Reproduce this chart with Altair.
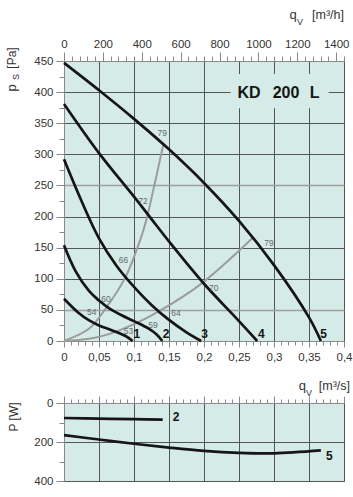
import altair as alt
import pandas as pd

FONT = "Liberation Sans"
BG = "#d4ebe7"
GRID_DARK = "#555555"
GRID_LIGHT = "#a0a0a0"
AXIS_GRAY = "#8a8a8a"
TEXT = "#333333"

# ---------------- data ----------------
# fan curves: static pressure p_s [Pa] vs flow q_v [m3/s]
curve_names = ["1", "2", "3", "4", "5"]
c1_q = [0, 0.021, 0.036, 0.05, 0.069, 0.088, 0.098]
c1_p = [68, 45, 33, 25, 17, 8, 0]
c2_q = [0, 0.0167, 0.036, 0.05, 0.064, 0.083, 0.1, 0.121, 0.132, 0.1405]
c2_p = [154, 112, 80, 65, 53, 41, 32, 20, 11, 0]
c3_q = [0, 0.025, 0.05, 0.075, 0.1, 0.125, 0.15, 0.175, 0.196]
c3_p = [292, 225, 165, 121, 87, 58, 34, 14, 0]
c4_q = [0, 0.05, 0.1, 0.125, 0.15, 0.2, 0.25, 0.276]
c4_p = [381, 302, 232, 196, 160, 92, 32, 0]
c5_q = [0, 0.05, 0.1, 0.15, 0.2, 0.25, 0.3, 0.35, 0.367]
c5_p = [447, 403, 357, 308, 254, 193, 122, 38, 0]

# efficiency (system) curves
e1_q = [0, 0.036, 0.06, 0.088, 0.11, 0.117, 0.1415]
e1_p = [0, 20, 53, 103, 166, 192, 314]
e2_q = [0, 0.036, 0.064, 0.1, 0.136, 0.195, 0.269]
e2_p = [0, 3.5, 11, 27, 48, 91, 165]

# efficiency labels
eff_text = ["54", "60", "66", "72", "79", "53", "59", "64", "70", "79"]
eff_q = [0.0396, 0.06, 0.085, 0.113, 0.1405, 0.092, 0.127, 0.16, 0.214, 0.293]
eff_p = [46.6, 67, 129.7, 225, 335, 16, 25.7, 45.5, 85.7, 158]

# curve number labels
num_q = [0.104, 0.146, 0.201, 0.282, 0.371]
num_p = [11, 11, 11, 11, 11]

# title
title_parts = ["KD", "200", "L"]
title_q = [0.2643, 0.3171, 0.358]
title_p = [399, 399, 399]
box_q = [0.238, 0.378]
box_p = [374, 429]

# power P [W]
pw_names = ["2", "5"]
pw2_q = [0, 0.05, 0.1, 0.141]
pw2_P = [77, 80, 83, 85]
pw5_q = [0, 0.05, 0.1, 0.15, 0.2, 0.25, 0.3, 0.367]
pw5_P = [165, 187, 209, 229, 246, 256, 258, 243]
pw_lab_q = [0.16, 0.379]
pw_lab_P = [71, 272]

# ticks
q_ticks = [round(i * 0.01, 2) for i in range(41)]
p_ticks = list(range(0, 451, 25))
h_ticks = list(range(0, 1441, 40))
P_ticks = [0, 100, 200, 300, 400]

# ---------------- helpers ----------------
def cond(test, a, b):
    return {"condition": {"test": test, "value": a}, "value": b}

MAJ_Q = "round(datum.value * 100) % 5 == 0"
MAJ_P = "datum.value % 50 == 0"
LIGHT_P = "datum.value == 50 || datum.value == 250"
MAJ_H = "datum.value % 200 == 0"
MAJ_W = "datum.value % 200 == 0"

q_scale = alt.Scale(domain=[0, 0.4], nice=False, zero=False)
p_scale = alt.Scale(domain=[0, 450], nice=False)
P_scale = alt.Scale(domain=[0, 400], nice=False, reverse=True)

x_axis1 = alt.Axis(
    orient="bottom", values=q_ticks, title=None,
    grid=True, gridColor=GRID_DARK, gridOpacity=cond(MAJ_Q, 1, 0),
    tickSize=cond(MAJ_Q, 6, 4),
    labelExpr="round(datum.value*100) % 5 == 0 ? replace(format(datum.value, ''), '.', ',') : ''",
    labelPadding=4, labelFlush=False, labelOverlap=False,
)
y_axis1 = alt.Axis(
    orient="left", values=p_ticks, title=None,
    grid=True, gridColor=cond(LIGHT_P, GRID_LIGHT, GRID_DARK),
    gridWidth=cond(LIGHT_P, 1.7, 1), gridOpacity=cond(MAJ_P, 1, 0),
    tickSize=cond(MAJ_P, 8, 5),
    labelExpr="datum.value % 50 == 0 ? format(datum.value, 'd') : ''",
    labelPadding=3, labelFlush=False, labelOverlap=False,
)
h_axis = alt.Axis(
    orient="top", values=h_ticks, title=None, grid=False,
    tickSize=cond(MAJ_H, 9, 5),
    labelExpr="datum.value % 200 == 0 ? format(datum.value, 'd') : ''",
    labelPadding=3, labelFlush=False, labelOverlap=False,
)
x_axis2 = alt.Axis(
    orient="top", values=q_ticks, title=None, labels=False,
    grid=True, gridColor=GRID_DARK, gridOpacity=cond(MAJ_Q, 1, 0),
    tickSize=cond(MAJ_Q, 7, 4),
)
y_axis2 = alt.Axis(
    orient="left", values=P_ticks, title=None,
    grid=True, gridColor=GRID_DARK, gridOpacity=cond(MAJ_W, 1, 0),
    tickSize=cond(MAJ_W, 8, 5),
    labelExpr="datum.value % 200 == 0 ? format(datum.value, 'd') : ''",
    labelPadding=3, labelFlush=False, labelOverlap=False,
)

def X1(f):
    return alt.X(f"{f}:Q", scale=q_scale, axis=x_axis1)

def Y1(f):
    return alt.Y(f"{f}:Q", scale=p_scale, axis=y_axis1)

def X2(f):
    return alt.X(f"{f}:Q", scale=q_scale, axis=x_axis2)

def Y2(f):
    return alt.Y(f"{f}:Q", scale=P_scale, axis=y_axis2)

def ptext(txt, x, y, size=12, angle=0, align="center", baseline="alphabetic",
          weight="normal", color=TEXT):
    return alt.Chart(alt.Data(values=[{}])).mark_text(
        text=txt, fontSize=size, angle=angle, align=align, baseline=baseline,
        fontWeight=weight, color=color, font=FONT,
    ).encode(x=alt.value(x), y=alt.value(y))

def long_df(names, qs_list, vs_list, vname):
    rows = []
    for n, qs, vs in zip(names, qs_list, vs_list):
        for i, (q, v) in enumerate(zip(qs, vs)):
            rows.append({"curve": n, "i": i, "q": q, vname: v})
    return pd.DataFrame(rows)

fan_df = long_df(curve_names, [c1_q, c2_q, c3_q, c4_q, c5_q],
                 [c1_p, c2_p, c3_p, c4_p, c5_p], "p")
eff_df = long_df(["a", "b"], [e1_q, e2_q], [e1_p, e2_p], "p")
eff_lab_df = pd.DataFrame({"t": eff_text, "q": eff_q, "p": eff_p})
num_df = pd.DataFrame({"t": curve_names, "q": num_q, "p": num_p})
title_df = pd.DataFrame({"t": title_parts, "q": title_q, "p": title_p})
box_df = pd.DataFrame({"q1": [box_q[0]], "q2": [box_q[1]], "p1": [box_p[0]], "p2": [box_p[1]]})
pw_df = long_df(pw_names, [pw2_q, pw5_q], [pw2_P, pw5_P], "P")
pw_lab_df = pd.DataFrame({"t": pw_names, "q": pw_lab_q, "P": pw_lab_P})

# ---------------- top chart ----------------
box = alt.Chart(box_df).mark_rect(fill=BG, stroke=None).encode(
    x=X1("q1"), x2="q2", y=Y1("p1"), y2="p2")

eff_lines = alt.Chart(eff_df).mark_line(
    color="#9c9c9c", strokeWidth=2, interpolate="catmull-rom").encode(
    x=X1("q"), y=Y1("p"), detail="curve:N", order="i:Q")

fan_lines = alt.Chart(fan_df).mark_line(
    color="#151515", strokeWidth=2.7, interpolate="catmull-rom").encode(
    x=X1("q"), y=Y1("p"), detail="curve:N", order="i:Q")

eff_labels = alt.Chart(eff_lab_df).mark_text(
    font=FONT, fontSize=8.5, color="#6a6a6a", baseline="middle").encode(
    x=X1("q"), y=Y1("p"), text="t:N")

num_labels = alt.Chart(num_df).mark_text(
    font=FONT, fontSize=12, fontWeight="bold", color="#151515", baseline="middle").encode(
    x=X1("q"), y=Y1("p"), text="t:N")

title_txt = alt.Chart(title_df).mark_text(
    font=FONT, fontSize=16, fontWeight="bold", color="#151515", baseline="middle").encode(
    x=X1("q"), y=Y1("p"), text="t:N")

anchor = alt.Chart(alt.Data(values=[{}])).mark_point(
    size=1, opacity=0, filled=True).encode(x=alt.value(-62.8), y=alt.value(-59.5))

inner = alt.layer(
    box, eff_lines, fan_lines, eff_labels, num_labels, title_txt, anchor,
    # top unit title q_V [m3/h]
    ptext("q", 229, -42, size=13),
    ptext("V", 236, -36, size=9),
    ptext("[m³/h]", 280, -42, size=12.5, align="right"),
    # bottom unit title q_V [m3/s]
    ptext("q", 238.3, 329, size=13),
    ptext("V", 245, 335, size=9),
    ptext("[m³/s]", 286, 329, size=12.5, align="right"),
    # left title p_S [Pa]
    ptext("p", -48.5, 27, size=13, angle=270),
    ptext("S", -45, 16, size=9, angle=270),
    ptext("[Pa]", -48.5, -3, size=12, angle=270),
)

h_layer = alt.Chart(pd.DataFrame({"h": [0, 1440]})).mark_point(opacity=0).encode(
    x=alt.X("h:Q", scale=alt.Scale(domain=[0, 1440], nice=False, zero=False), axis=h_axis))

top = alt.layer(inner, h_layer).resolve_scale(x="independent").properties(width=280, height=280)

# ---------------- bottom chart ----------------
pw_lines = alt.Chart(pw_df).mark_line(
    color="#151515", strokeWidth=2.7, interpolate="catmull-rom").encode(
    x=X2("q"), y=Y2("P"), detail="curve:N", order="i:Q")

pw_labels = alt.Chart(pw_lab_df).mark_text(
    font=FONT, fontSize=12, fontWeight="bold", color="#151515", baseline="middle").encode(
    x=X2("q"), y=Y2("P"), text="t:N")

bottom = alt.layer(
    pw_lines, pw_labels,
    ptext("P [W]", -46, 14, size=12, angle=270),
).properties(width=280, height=78)

chart = alt.vconcat(top, bottom, spacing=62, bounds="flush").properties(
    padding=0
).configure_view(
    fill=BG, stroke=AXIS_GRAY, strokeWidth=1
).configure_axis(
    labelFont=FONT, labelColor=TEXT, labelFontSize=11.5,
    tickColor=AXIS_GRAY, domainColor=AXIS_GRAY, tickWidth=1,
)

chart.save("out.html", embed_options={"renderer": "svg", "actions": False})
